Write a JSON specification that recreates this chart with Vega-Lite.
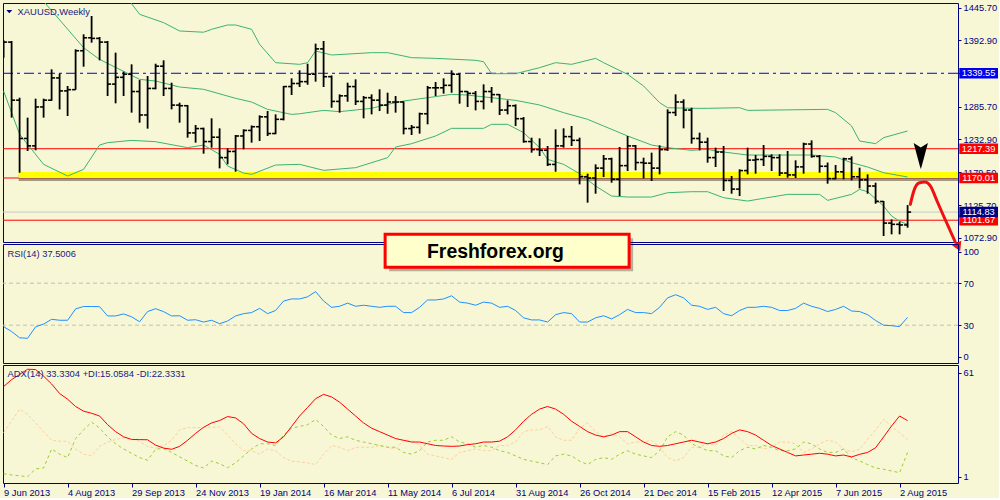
{
"$schema": "https://vega.github.io/schema/vega-lite/v6.json",
"background": "#F7F7D5",
"padding": {"left": 2, "top": 2, "right": 0, "bottom": 0},
"bounds": "flush",
"spacing": 2,
"config": {
  "font": "Liberation Sans",
  "view": {"stroke": "#000080", "strokeWidth": 1},
  "axis": {"labelFont": "Liberation Sans", "labelFontSize": 9.3, "labelColor": "#000080", "tickColor": "#000080", "domain": false, "grid": false, "labelOverlap": false, "labelBound": false, "labelFlush": false}
},
"datasets": {
"bars": [
{"d":"2013-06-09","o":1383,"h":1392.9,"l":1364.8,"c":1390,"r":28.6,"a":53,"p":2.7,"m":26.4},
{"d":"2013-06-16","o":1390,"h":1391.8,"l":1267.7,"c":1296,"r":24,"a":57,"p":2,"m":33},
{"d":"2013-06-23","o":1296,"h":1300,"l":1178.6,"c":1234,"r":18,"a":60,"p":1.5,"m":40},
{"d":"2013-06-30","o":1234,"h":1267.7,"l":1213.7,"c":1222,"r":17.5,"a":63,"p":1,"m":37},
{"d":"2013-07-07","o":1222,"h":1298.4,"l":1214.8,"c":1285,"r":28.5,"a":62.8,"p":5.5,"m":32},
{"d":"2013-07-14","o":1285,"h":1298.4,"l":1267.7,"c":1296,"r":31,"a":59,"p":6,"m":27},
{"d":"2013-07-21","o":1296,"h":1345.9,"l":1295,"c":1332,"r":35.6,"a":54.5,"p":17,"m":22},
{"d":"2013-07-28","o":1332,"h":1339,"l":1281,"c":1311,"r":34.7,"a":49,"p":14,"m":21.5},
{"d":"2013-08-04","o":1311,"h":1319,"l":1270.4,"c":1313,"r":34.7,"a":45.7,"p":12,"m":21.4},
{"d":"2013-08-11","o":1313,"h":1378.3,"l":1313,"c":1376,"r":45.5,"a":41.5,"p":23,"m":17},
{"d":"2013-08-18","o":1376,"h":1402.6,"l":1350.2,"c":1397,"r":47.8,"a":38.8,"p":28,"m":14},
{"d":"2013-08-25","o":1397,"h":1432.3,"l":1389.1,"c":1396,"r":47.8,"a":37.6,"p":32.5,"m":13},
{"d":"2013-09-01","o":1396,"h":1398.3,"l":1360.5,"c":1390,"r":47.6,"a":36,"p":29,"m":18.5},
{"d":"2013-09-08","o":1390,"h":1391.8,"l":1302.7,"c":1322,"r":38.8,"a":31,"p":24,"m":21},
{"d":"2013-09-15","o":1322,"h":1372.9,"l":1290.9,"c":1333,"r":38.8,"a":27,"p":20,"m":22.5},
{"d":"2013-09-22","o":1333,"h":1342.1,"l":1302.7,"c":1338,"r":40.7,"a":24,"p":17,"m":23.5},
{"d":"2013-09-29","o":1338,"h":1354,"l":1275.8,"c":1310,"r":38,"a":22.5,"p":14.5,"m":22.5},
{"d":"2013-10-06","o":1310,"h":1328.6,"l":1259.6,"c":1272,"r":33.3,"a":22.4,"p":12,"m":21.5},
{"d":"2013-10-13","o":1272,"h":1335.1,"l":1249.9,"c":1315,"r":43,"a":22.3,"p":10.5,"m":18.5},
{"d":"2013-10-20","o":1315,"h":1355,"l":1313.6,"c":1351,"r":45.7,"a":19.2,"p":16.8,"m":17.4},
{"d":"2013-10-27","o":1351,"h":1360.5,"l":1302.7,"c":1315,"r":42.9,"a":17.5,"p":17.4,"m":18.7},
{"d":"2013-11-03","o":1315,"h":1324.3,"l":1281.1,"c":1288,"r":38.8,"a":16.8,"p":15,"m":22},
{"d":"2013-11-10","o":1288,"h":1291.9,"l":1259.6,"c":1287,"r":39,"a":18.5,"p":12.5,"m":28},
{"d":"2013-11-17","o":1287,"h":1288.2,"l":1235.3,"c":1243,"r":34.7,"a":22,"p":10,"m":29.3},
{"d":"2013-11-24","o":1243,"h":1255.8,"l":1227.2,"c":1250,"r":35.2,"a":26,"p":7.5,"m":29.3},
{"d":"2013-12-01","o":1250,"h":1251.5,"l":1209.4,"c":1229,"r":33,"a":29.5,"p":6,"m":29.3},
{"d":"2013-12-08","o":1229,"h":1266.6,"l":1219.1,"c":1236,"r":34.7,"a":32,"p":10,"m":29.5},
{"d":"2013-12-15","o":1236,"h":1250.4,"l":1185.6,"c":1203,"r":31.4,"a":33.4,"p":8.5,"m":29.7},
{"d":"2013-12-22","o":1203,"h":1218,"l":1192.1,"c":1213,"r":34,"a":35.7,"p":6.2,"m":25},
{"d":"2013-12-29","o":1213,"h":1239.6,"l":1180.2,"c":1238,"r":38.8,"a":34.9,"p":9,"m":20},
{"d":"2014-01-05","o":1238,"h":1248.8,"l":1216.4,"c":1247,"r":41,"a":31.5,"p":13,"m":16},
{"d":"2014-01-12","o":1247,"h":1255,"l":1227.2,"c":1253,"r":42,"a":26,"p":17,"m":16},
{"d":"2014-01-19","o":1253,"h":1271.4,"l":1229.9,"c":1269,"r":46,"a":23,"p":20,"m":14},
{"d":"2014-01-26","o":1269,"h":1278.4,"l":1238,"c":1242,"r":41,"a":21,"p":20,"m":17},
{"d":"2014-02-02","o":1242,"h":1273,"l":1241,"c":1265,"r":44,"a":20.5,"p":19,"m":16},
{"d":"2014-02-09","o":1265,"h":1319,"l":1263.3,"c":1318,"r":53,"a":24,"p":25,"m":12},
{"d":"2014-02-16","o":1318,"h":1331.3,"l":1304.4,"c":1323,"r":55,"a":30,"p":29,"m":10},
{"d":"2014-02-23","o":1323,"h":1344.3,"l":1317.3,"c":1326,"r":55,"a":36,"p":30,"m":9.5},
{"d":"2014-03-02","o":1326,"h":1355,"l":1321,"c":1338,"r":57,"a":41,"p":31,"m":9},
{"d":"2014-03-09","o":1338,"h":1387.5,"l":1326,"c":1379,"r":62,"a":46,"p":34,"m":8},
{"d":"2014-03-16","o":1379,"h":1391.8,"l":1317.3,"c":1334,"r":53,"a":48.5,"p":30,"m":14},
{"d":"2014-03-23","o":1334,"h":1336,"l":1283.8,"c":1294,"r":47,"a":47,"p":25,"m":19},
{"d":"2014-03-30","o":1294,"h":1305.4,"l":1275.8,"c":1303,"r":48,"a":44,"p":23,"m":18},
{"d":"2014-04-06","o":1303,"h":1324.3,"l":1293.5,"c":1318,"r":51,"a":40,"p":24,"m":16},
{"d":"2014-04-13","o":1318,"h":1329.7,"l":1288.2,"c":1294,"r":48,"a":36,"p":22,"m":18},
{"d":"2014-04-20","o":1294,"h":1302.7,"l":1266.6,"c":1300,"r":49,"a":32,"p":21,"m":18},
{"d":"2014-04-27","o":1300,"h":1305.4,"l":1273,"c":1296,"r":48,"a":29,"p":20,"m":18},
{"d":"2014-05-04","o":1296,"h":1313.6,"l":1278.4,"c":1288,"r":47,"a":27,"p":19,"m":19},
{"d":"2014-05-11","o":1288,"h":1308.1,"l":1274,"c":1293,"r":48,"a":25,"p":18,"m":18},
{"d":"2014-05-18","o":1293,"h":1302.7,"l":1275.8,"c":1293,"r":48,"a":23,"p":18,"m":17},
{"d":"2014-05-25","o":1293,"h":1294,"l":1240.7,"c":1250,"r":42,"a":22,"p":15,"m":22},
{"d":"2014-06-01","o":1250,"h":1255.8,"l":1239.6,"c":1252,"r":42,"a":21,"p":14,"m":22},
{"d":"2014-06-08","o":1252,"h":1275.8,"l":1241.8,"c":1274,"r":47,"a":21,"p":16,"m":19},
{"d":"2014-06-15","o":1274,"h":1319,"l":1256.9,"c":1316,"r":54,"a":20,"p":21,"m":14},
{"d":"2014-06-22","o":1316,"h":1325.4,"l":1302.7,"c":1316,"r":54,"a":19,"p":22,"m":13},
{"d":"2014-06-29","o":1316,"h":1331.3,"l":1306.5,"c":1320,"r":55,"a":18.7,"p":22,"m":12},
{"d":"2014-07-06","o":1320,"h":1344.3,"l":1308.1,"c":1338,"r":58,"a":18.5,"p":24,"m":11},
{"d":"2014-07-13","o":1338,"h":1339,"l":1290.3,"c":1310,"r":52,"a":18.7,"p":21,"m":15},
{"d":"2014-07-20","o":1310,"h":1310.8,"l":1284.9,"c":1307,"r":51,"a":19.5,"p":20,"m":16},
{"d":"2014-07-27","o":1307,"h":1310.8,"l":1279.5,"c":1294,"r":49,"a":20,"p":18,"m":17},
{"d":"2014-08-03","o":1294,"h":1321.6,"l":1281.1,"c":1310,"r":52,"a":21,"p":19,"m":16},
{"d":"2014-08-10","o":1310,"h":1317.3,"l":1292,"c":1305,"r":51,"a":21,"p":18,"m":16},
{"d":"2014-08-17","o":1305,"h":1306,"l":1272,"c":1280,"r":47,"a":21.5,"p":16,"m":19},
{"d":"2014-08-24","o":1280,"h":1295.7,"l":1273,"c":1287,"r":48,"a":24,"p":15,"m":19},
{"d":"2014-08-31","o":1287,"h":1289.2,"l":1254.2,"c":1266,"r":44,"a":28,"p":13,"m":21},
{"d":"2014-09-07","o":1266,"h":1268.7,"l":1227.2,"c":1229,"r":37,"a":33,"p":11,"m":27},
{"d":"2014-09-14","o":1229,"h":1235.3,"l":1211,"c":1216,"r":35,"a":37,"p":10,"m":28},
{"d":"2014-09-21","o":1216,"h":1234.2,"l":1205.6,"c":1215,"r":35,"a":40,"p":9,"m":28},
{"d":"2014-09-28","o":1215,"h":1221.8,"l":1189.4,"c":1192,"r":33,"a":41.5,"p":8,"m":30},
{"d":"2014-10-05","o":1192,"h":1248.8,"l":1180.2,"c":1222,"r":40,"a":40,"p":13,"m":24},
{"d":"2014-10-12","o":1222,"h":1250.4,"l":1219.1,"c":1237,"r":42,"a":37,"p":14,"m":22},
{"d":"2014-10-19","o":1237,"h":1254.2,"l":1221.8,"c":1231,"r":41,"a":33,"p":13,"m":22},
{"d":"2014-10-26","o":1231,"h":1235.3,"l":1159.7,"c":1172,"r":33,"a":30,"p":10,"m":29},
{"d":"2014-11-02","o":1172,"h":1177,"l":1130.1,"c":1170,"r":33,"a":27,"p":8,"m":32},
{"d":"2014-11-09","o":1170,"h":1192.1,"l":1144.6,"c":1186,"r":37,"a":25,"p":11,"m":27},
{"d":"2014-11-16","o":1186,"h":1207.2,"l":1171.6,"c":1201,"r":39,"a":24,"p":12,"m":24},
{"d":"2014-11-23","o":1201,"h":1202.9,"l":1162.4,"c":1168,"r":36,"a":25,"p":11,"m":26},
{"d":"2014-11-30","o":1168,"h":1220.2,"l":1140.8,"c":1190,"r":40,"a":27,"p":14,"m":24},
{"d":"2014-12-07","o":1190,"h":1238,"l":1181.3,"c":1222,"r":45,"a":27,"p":16,"m":20},
{"d":"2014-12-14","o":1222,"h":1223.4,"l":1182.4,"c":1195,"r":42,"a":24,"p":14,"m":21},
{"d":"2014-12-21","o":1195,"h":1202.9,"l":1169.4,"c":1194,"r":42,"a":21,"p":13,"m":21},
{"d":"2014-12-28","o":1194,"h":1211,"l":1165.1,"c":1186,"r":41,"a":19,"p":12,"m":22},
{"d":"2015-01-04","o":1186,"h":1222.9,"l":1175.9,"c":1216,"r":47,"a":18.5,"p":16,"m":18},
{"d":"2015-01-11","o":1216,"h":1281.1,"l":1214,"c":1276,"r":56,"a":19,"p":24,"m":12},
{"d":"2015-01-18","o":1276,"h":1305.4,"l":1270.4,"c":1293,"r":59,"a":20,"p":27,"m":10},
{"d":"2015-01-25","o":1293,"h":1297.4,"l":1250.4,"c":1280,"r":56,"a":21,"p":25,"m":12},
{"d":"2015-02-01","o":1280,"h":1283.8,"l":1225.6,"c":1234,"r":49,"a":22,"p":20,"m":18},
{"d":"2015-02-08","o":1234,"h":1243.4,"l":1214.8,"c":1228,"r":48,"a":21,"p":18,"m":18},
{"d":"2015-02-15","o":1228,"h":1235.3,"l":1194.8,"c":1203,"r":45,"a":20,"p":16,"m":20},
{"d":"2015-02-22","o":1203,"h":1219.1,"l":1187.8,"c":1212,"r":47,"a":21,"p":16,"m":19},
{"d":"2015-03-01","o":1212,"h":1221.8,"l":1149,"c":1166,"r":41,"a":23,"p":13,"m":25},
{"d":"2015-03-08","o":1166,"h":1173.2,"l":1144.6,"c":1152,"r":39,"a":26,"p":12,"m":27},
{"d":"2015-03-15","o":1152,"h":1184,"l":1140.8,"c":1182,"r":44,"a":28,"p":16,"m":23},
{"d":"2015-03-22","o":1182,"h":1219.1,"l":1175.9,"c":1199,"r":47,"a":27,"p":18,"m":19},
{"d":"2015-03-29","o":1199,"h":1207.2,"l":1177,"c":1200,"r":47,"a":25,"p":17,"m":19},
{"d":"2015-04-05","o":1200,"h":1223.4,"l":1189.4,"c":1205,"r":48,"a":22,"p":19,"m":17},
{"d":"2015-04-12","o":1205,"h":1208.3,"l":1181.3,"c":1203,"r":47,"a":19,"p":18,"m":18},
{"d":"2015-04-19","o":1203,"h":1208.3,"l":1173.2,"c":1178,"r":44,"a":17,"p":16,"m":21},
{"d":"2015-04-26","o":1178,"h":1213.7,"l":1170.5,"c":1175,"r":44,"a":15,"p":16,"m":21},
{"d":"2015-05-03","o":1175,"h":1198.6,"l":1170,"c":1188,"r":46,"a":13,"p":17,"m":20},
{"d":"2015-05-10","o":1188,"h":1227.2,"l":1177,"c":1225,"r":51,"a":13.5,"p":21,"m":15},
{"d":"2015-05-17","o":1225,"h":1230.9,"l":1202.9,"c":1205,"r":48,"a":14,"p":20,"m":17},
{"d":"2015-05-24","o":1205,"h":1207.2,"l":1178.6,"c":1189,"r":46,"a":14.5,"p":17,"m":20},
{"d":"2015-05-31","o":1189,"h":1195,"l":1160.8,"c":1169,"r":43,"a":14,"p":15,"m":22},
{"d":"2015-06-07","o":1169,"h":1191,"l":1167.8,"c":1180,"r":45,"a":13,"p":15,"m":21},
{"d":"2015-06-14","o":1180,"h":1202.9,"l":1167.8,"c":1201,"r":48,"a":13.5,"p":17,"m":17},
{"d":"2015-06-21","o":1201,"h":1205,"l":1166.2,"c":1172,"r":43.5,"a":12.4,"p":12,"m":15.4},
{"d":"2015-06-28","o":1172,"h":1186.7,"l":1153.2,"c":1167,"r":43,"a":13.9,"p":10.1,"m":16.8},
{"d":"2015-07-05","o":1167,"h":1175.9,"l":1144.6,"c":1157,"r":40,"a":15,"p":8,"m":22.6},
{"d":"2015-07-12","o":1157,"h":1162.4,"l":1128.4,"c":1132,"r":34.5,"a":17.7,"p":6,"m":28},
{"d":"2015-07-19","o":1132,"h":1132.7,"l":1076.1,"c":1097,"r":30,"a":23.9,"p":5.3,"m":34.1},
{"d":"2015-07-26","o":1097,"h":1103,"l":1078.8,"c":1095,"r":29.5,"a":30.3,"p":4.3,"m":30},
{"d":"2015-08-02","o":1095,"h":1099.3,"l":1078.8,"c":1094,"r":28.7,"a":36,"p":3.3,"m":26.4},
{"d":"2015-08-09","o":1094,"h":1126.2,"l":1089.6,"c":1114.83,"r":37.5006,"a":33.3304,"p":15.0584,"m":22.3331}
],
"bb": [
{"d":"2013-08-04","b":"u","v":1540},{"d":"2013-09-01","b":"u","v":1505},{"d":"2013-09-15","b":"u","v":1478},{"d":"2013-09-29","b":"u","v":1452},{"d":"2013-10-06","b":"u","v":1435},{"d":"2013-10-27","b":"u","v":1421.5},{"d":"2013-11-10","b":"u","v":1408},{"d":"2013-12-01","b":"u","v":1406},{"d":"2013-12-08","b":"u","v":1410.7},{"d":"2013-12-22","b":"u","v":1417.7},{"d":"2013-12-29","b":"u","v":1417.7},{"d":"2014-01-12","b":"u","v":1410.7},{"d":"2014-01-19","b":"u","v":1386.4},{"d":"2014-02-02","b":"u","v":1356.7},{"d":"2014-02-23","b":"u","v":1354},{"d":"2014-03-02","b":"u","v":1356.7},{"d":"2014-03-09","b":"u","v":1375.6},{"d":"2014-03-23","b":"u","v":1369.1},{"d":"2014-04-27","b":"u","v":1372.9},{"d":"2014-05-11","b":"u","v":1372.9},{"d":"2014-06-01","b":"u","v":1364.8},{"d":"2014-06-22","b":"u","v":1363.7},{"d":"2014-07-27","b":"u","v":1360.5},{"d":"2014-08-03","b":"u","v":1358.3},{"d":"2014-08-10","b":"u","v":1338.9},{"d":"2014-08-31","b":"u","v":1338.9},{"d":"2014-09-21","b":"u","v":1348.6},{"d":"2014-10-05","b":"u","v":1356.7},{"d":"2014-10-19","b":"u","v":1354},{"d":"2014-11-09","b":"u","v":1363.7},{"d":"2014-11-16","b":"u","v":1356.7},{"d":"2014-12-07","b":"u","v":1337.8},{"d":"2014-12-21","b":"u","v":1318.9},{"d":"2015-01-04","b":"u","v":1292},{"d":"2015-01-11","b":"u","v":1283.8},{"d":"2015-02-01","b":"u","v":1282.8},{"d":"2015-02-15","b":"u","v":1282.8},{"d":"2015-03-15","b":"u","v":1283.8},{"d":"2015-03-22","b":"u","v":1279.5},{"d":"2015-05-31","b":"u","v":1281.1},{"d":"2015-06-07","b":"u","v":1275.8},{"d":"2015-06-21","b":"u","v":1254.2},{"d":"2015-06-28","b":"u","v":1229.9},{"d":"2015-07-12","b":"u","v":1225.6},{"d":"2015-07-19","b":"u","v":1235.3},{"d":"2015-08-09","b":"u","v":1246.1},
{"d":"2013-06-09","b":"m","v":1480},{"d":"2013-06-30","b":"m","v":1468},{"d":"2013-07-14","b":"m","v":1456},{"d":"2013-08-18","b":"m","v":1381},{"d":"2013-09-01","b":"m","v":1362},{"d":"2013-10-06","b":"m","v":1329.7},{"d":"2013-10-20","b":"m","v":1327},{"d":"2013-11-10","b":"m","v":1317.3},{"d":"2013-12-01","b":"m","v":1313.6},{"d":"2013-12-29","b":"m","v":1299},{"d":"2014-01-12","b":"m","v":1293},{"d":"2014-01-26","b":"m","v":1281.1},{"d":"2014-02-16","b":"m","v":1273},{"d":"2014-02-23","b":"m","v":1274},{"d":"2014-03-16","b":"m","v":1279.5},{"d":"2014-03-30","b":"m","v":1277.4},{"d":"2014-04-27","b":"m","v":1282.8},{"d":"2014-05-11","b":"m","v":1289.2},{"d":"2014-05-25","b":"m","v":1294.6},{"d":"2014-06-15","b":"m","v":1300},{"d":"2014-07-06","b":"m","v":1305.4},{"d":"2014-07-20","b":"m","v":1304.3},{"d":"2014-07-27","b":"m","v":1302.7},{"d":"2014-08-10","b":"m","v":1300},{"d":"2014-08-31","b":"m","v":1295.7},{"d":"2014-09-21","b":"m","v":1288.2},{"d":"2014-10-12","b":"m","v":1275.8},{"d":"2014-11-02","b":"m","v":1265},{"d":"2014-11-16","b":"m","v":1254.2},{"d":"2014-12-07","b":"m","v":1238},{"d":"2014-12-28","b":"m","v":1223.4},{"d":"2015-01-11","b":"m","v":1219.1},{"d":"2015-02-01","b":"m","v":1214.8},{"d":"2015-02-15","b":"m","v":1216.4},{"d":"2015-02-22","b":"m","v":1213.7},{"d":"2015-03-22","b":"m","v":1207.2},{"d":"2015-04-26","b":"m","v":1207.2},{"d":"2015-05-17","b":"m","v":1207.2},{"d":"2015-06-07","b":"m","v":1204},{"d":"2015-06-21","b":"m","v":1194.8},{"d":"2015-07-05","b":"m","v":1187.8},{"d":"2015-07-19","b":"m","v":1178.6},{"d":"2015-08-09","b":"m","v":1171.6},
{"d":"2013-06-09","b":"l","v":1310.8},{"d":"2013-06-23","b":"l","v":1240.7},{"d":"2013-07-14","b":"l","v":1192.1},{"d":"2013-08-04","b":"l","v":1173.2},{"d":"2013-08-18","b":"l","v":1184},{"d":"2013-09-01","b":"l","v":1223.4},{"d":"2013-09-08","b":"l","v":1227.2},{"d":"2013-09-29","b":"l","v":1230.9},{"d":"2013-10-20","b":"l","v":1228.8},{"d":"2013-11-17","b":"l","v":1219.1},{"d":"2013-12-01","b":"l","v":1223.4},{"d":"2013-12-15","b":"l","v":1208.3},{"d":"2013-12-22","b":"l","v":1189.4},{"d":"2014-01-05","b":"l","v":1178},{"d":"2014-01-12","b":"l","v":1175.9},{"d":"2014-02-02","b":"l","v":1191},{"d":"2014-02-23","b":"l","v":1192.1},{"d":"2014-03-16","b":"l","v":1182.4},{"d":"2014-04-13","b":"l","v":1186.7},{"d":"2014-05-11","b":"l","v":1202.9},{"d":"2014-05-18","b":"l","v":1220.2},{"d":"2014-06-01","b":"l","v":1225.6},{"d":"2014-06-22","b":"l","v":1238},{"d":"2014-07-06","b":"l","v":1250.4},{"d":"2014-08-03","b":"l","v":1250.4},{"d":"2014-08-10","b":"l","v":1256.9},{"d":"2014-08-24","b":"l","v":1256.9},{"d":"2014-09-07","b":"l","v":1243.4},{"d":"2014-09-21","b":"l","v":1219.1},{"d":"2014-09-28","b":"l","v":1200.2},{"d":"2014-10-12","b":"l","v":1192.1},{"d":"2014-10-26","b":"l","v":1177},{"d":"2014-11-09","b":"l","v":1157},{"d":"2014-11-23","b":"l","v":1140.8},{"d":"2014-12-07","b":"l","v":1139.2},{"d":"2014-12-28","b":"l","v":1139.2},{"d":"2015-01-11","b":"l","v":1146.2},{"d":"2015-02-01","b":"l","v":1147.8},{"d":"2015-02-15","b":"l","v":1147.8},{"d":"2015-03-01","b":"l","v":1138.1},{"d":"2015-03-22","b":"l","v":1132.7},{"d":"2015-04-05","b":"l","v":1137.1},{"d":"2015-04-26","b":"l","v":1143.5},{"d":"2015-05-24","b":"l","v":1143.5},{"d":"2015-05-31","b":"l","v":1133.8},{"d":"2015-06-21","b":"l","v":1143.5},{"d":"2015-06-28","b":"l","v":1151.6},{"d":"2015-07-05","b":"l","v":1147.8},{"d":"2015-07-19","b":"l","v":1124.6},{"d":"2015-07-26","b":"l","v":1108.4},{"d":"2015-08-02","b":"l","v":1100},{"d":"2015-08-09","b":"l","v":1094.9}
],
"lv": [
{"v":1339.55,"k":"pivot"},{"v":1217.39,"k":"res"},{"v":1170.01,"k":"sup"},{"v":1101.67,"k":"sup2"},{"v":1114.83,"k":"bid"}
],
"curve": [
{"d":"2015-08-11T09:00:00Z","p":1127.4},{"d":"2015-08-14T10:30:00Z","p":1149},{"d":"2015-08-18T19:00:00Z","p":1161.9},{"d":"2015-08-24T11:00:00Z","p":1163.5},{"d":"2015-08-28T21:00:00Z","p":1157.2},{"d":"2015-09-03T18:00:00Z","p":1132.8},{"d":"2015-09-09T12:00:00Z","p":1108.5},{"d":"2015-09-15T09:00:00Z","p":1084.2},{"d":"2015-09-19T17:00:00Z","p":1066.4}
]
},
"vconcat": [
{
"width": 955, "height": 239,
"layer": [
{"data":{"name":"lv"},"transform":[{"filter":"datum.k=='res'||datum.k=='sup'||datum.k=='sup2'"}],
 "mark":{"type":"rule","stroke":"#FF0000","strokeWidth":1},
 "encoding":{"y":{"field":"v","type":"quantitative","title":null,"scale":{"domain":[1066.4,1453.3],"nice":false,"zero":false},"axis":{"orient":"right","values":[1072.9,1125.7,1179.5,1232.9,1285.7,1339.3,1392.9,1445.7],"tickCount":30,"format":".2f","tickSize":3,"labelPadding":2,"labelOverlap":false}}}},
{"data":{"name":"lv"},"transform":[{"filter":"datum.k=='pivot'"}],
 "mark":{"type":"rule","stroke":"#0000E0","strokeWidth":1,"strokeDash":[10,4,3,4]},
 "encoding":{"y":{"field":"v","type":"quantitative","title":null}}},
{"data":{"name":"lv"},"transform":[{"filter":"datum.k=='bid'"}],
 "mark":{"type":"rule","stroke":"#C8C8C8","strokeWidth":1},
 "encoding":{"y":{"field":"v","type":"quantitative","title":null}}},
{"data":{"values":[{"f":"2013-06-22T03:00:00Z","t":"2015-09-22T02:24:00Z","lo":1170.0,"hi":1179.7}]},
 "mark":{"type":"rect","fill":"#5a4e38","opacity":0.55,"yOffset":3,"y2Offset":3},
 "encoding":{"x":{"field":"f","type":"temporal","title":null},"x2":{"field":"t"},"y":{"field":"lo","type":"quantitative","title":null},"y2":{"field":"hi"}}},
{"data":{"values":[{"f":"2013-06-22T03:00:00Z","t":"2015-09-22T02:24:00Z","lo":1170.0,"hi":1179.7}]},
 "mark":{"type":"rect","fill":"#FFFF00"},
 "encoding":{"x":{"field":"f","type":"temporal","title":null},"x2":{"field":"t"},"y":{"field":"lo","type":"quantitative","title":null},"y2":{"field":"hi"}}},
{"data":{"name":"bb"},
 "mark":{"type":"line","stroke":"#3CB371","strokeWidth":1,"clip":true},
 "encoding":{"x":{"field":"d","type":"temporal","title":null},"y":{"field":"v","type":"quantitative","title":null},"detail":{"field":"b"}}},
{"data":{"name":"bars"},
 "mark":{"type":"rule","color":"#000000","strokeWidth":1.8,"clip":true},
 "encoding":{"x":{"field":"d","type":"temporal","title":null,"axis":null,"scale":{"type":"utc","domain":[{"year":2013,"month":6,"date":8,"hours":11,"minutes":24,"utc":true},{"year":2015,"month":9,"date":22,"hours":2,"minutes":24,"utc":true}]}},"y":{"field":"l","type":"quantitative","title":null},"y2":{"field":"h"}}},
{"data":{"name":"bars"},
 "mark":{"type":"rule","color":"#000000","strokeWidth":1.6,"x2Offset":-3.5,"clip":true},
 "encoding":{"x":{"field":"d","type":"temporal","title":null},"x2":{"field":"d"},"y":{"field":"o","type":"quantitative","title":null}}},
{"data":{"name":"bars"},
 "mark":{"type":"rule","color":"#000000","strokeWidth":1.6,"x2Offset":3.5,"clip":true},
 "encoding":{"x":{"field":"d","type":"temporal","title":null},"x2":{"field":"d"},"y":{"field":"c","type":"quantitative","title":null}}},
{"data":{"name":"lv"},
 "mark":{"type":"point","shape":"M-1,-0.27H1V0.27H-1Z","size":1498,"filled":true,"opacity":1,"strokeWidth":0},
 "encoding":{"x":{"datum":{"year":2015,"month":10,"date":10,"hours":4,"utc":true},"type":"temporal"},"y":{"field":"v","type":"quantitative","title":null},
  "color":{"field":"k","type":"nominal","legend":null,"scale":{"domain":["pivot","res","sup","bid","sup2"],"range":["#0000F0","#FF0000","#FF0000","#000080","#FF0000"]}}}},
{"data":{"name":"lv"},
 "mark":{"type":"text","color":"#FFFFFF","font":"Liberation Sans","fontSize":9.3,"align":"center","baseline":"middle"},
 "encoding":{"x":{"datum":{"year":2015,"month":10,"date":10,"hours":4,"utc":true},"type":"temporal"},"y":{"field":"v","type":"quantitative","title":null},"text":{"field":"v","type":"quantitative","format":".2f"}}},
{"data":{"values":[{"t":"XAUUSD,Weekly"}]},
 "mark":{"type":"point","shape":"M-1,-0.55L1,-0.55L0,0.55Z","size":36,"filled":true,"color":"#000080","opacity":1,"xOffset":5.7},
 "encoding":{"x":{"datum":{"year":2013,"month":6,"date":9,"utc":true},"type":"temporal"},"y":{"datum":1439.2,"type":"quantitative"}}},
{"data":{"values":[{"t":"XAUUSD,Weekly"}]},
 "mark":{"type":"text","align":"left","baseline":"middle","dx":14,"font":"Liberation Sans","fontSize":9.4,"color":"#202080"},
 "encoding":{"x":{"datum":{"year":2013,"month":6,"date":9,"utc":true},"type":"temporal"},"y":{"datum":1439.2,"type":"quantitative"},"text":{"field":"t"}}},
{"data":{"values":[{"t":"down"}]},
 "mark":{"type":"point","shape":"M-0.55,-1L0,-0.65L0.55,-1L0.08,0.75L0,1L-0.08,0.75Z","size":676,"filled":true,"color":"#000000","opacity":1},
 "encoding":{"x":{"datum":{"year":2015,"month":8,"date":20,"hours":13,"utc":true},"type":"temporal"},"y":{"datum":1205.6,"type":"quantitative"}}},
{"data":{"name":"curve"},
 "mark":{"type":"line","stroke":"#F01010","strokeWidth":3,"interpolate":"monotone","strokeCap":"round"},
 "encoding":{"x":{"field":"d","type":"temporal","title":null},"y":{"field":"p","type":"quantitative","title":null}}},
{"data":{"values":[{"t":"head"}]},
 "mark":{"type":"point","shape":"triangle-down","size":110,"angle":-24,"filled":true,"color":"#F01010","opacity":1},
 "encoding":{"x":{"datum":{"year":2015,"month":9,"date":22,"hours":9,"utc":true},"type":"temporal"},"y":{"datum":1058.3,"type":"quantitative"}}}
]
},
{
"width": 955, "height": 119,
"layer": [
{"data":{"values":[{"lv":30},{"lv":70}]},
 "mark":{"type":"rule","stroke":"#BEBEBE","strokeWidth":1,"strokeDash":[4,3]},
 "encoding":{"y":{"field":"lv","type":"quantitative","title":null,"scale":{"domain":[-6,107.3],"nice":false,"zero":false},"axis":{"orient":"right","values":[0,30,70,100],"tickCount":30,"format":"d","tickSize":3,"labelPadding":2,"labelOverlap":false}}}},
{"data":{"name":"bars"},
 "mark":{"type":"line","stroke":"#1E90FF","strokeWidth":1,"clip":true},
 "encoding":{"x":{"field":"d","type":"temporal","title":null,"axis":null,"scale":{"type":"utc","domain":[{"year":2013,"month":6,"date":8,"hours":11,"minutes":24,"utc":true},{"year":2015,"month":9,"date":22,"hours":2,"minutes":24,"utc":true}]}},"y":{"field":"r","type":"quantitative","title":null}}},
{"data":{"values":[{"t":"RSI(14) 37.5006"}]},
 "mark":{"type":"text","align":"left","baseline":"middle","dx":4,"font":"Liberation Sans","fontSize":9.3,"color":"#202080"},
 "encoding":{"x":{"datum":{"year":2013,"month":6,"date":9,"utc":true},"type":"temporal"},"y":{"datum":98.1,"type":"quantitative"},"text":{"field":"t"}}}
]
},
{
"width": 955, "height": 118,
"layer": [
{"data":{"name":"bars"},
 "mark":{"type":"line","stroke":"#FFCFA0","strokeWidth":1,"strokeDash":[3,2],"clip":true},
 "encoding":{"x":{"field":"d","type":"temporal","title":null,"scale":{"type":"utc","domain":[{"year":2013,"month":6,"date":8,"hours":11,"minutes":24,"utc":true},{"year":2015,"month":9,"date":22,"hours":2,"minutes":24,"utc":true}]},
   "axis":{"orient":"bottom","values":[1370736000000,1375574400000,1380412800000,1385251200000,1390089600000,1394928000000,1399766400000,1404604800000,1409443200000,1414281600000,1419120000000,1423958400000,1428796800000,1433635200000,1438473600000],"tickCount":40,"format":"%-d %b %Y","labelAlign":"left","labelBaseline":"top","labelFlush":false,"labelOverlap":false,"labelBound":false,"tickSize":4,"labelPadding":1}},
  "y":{"field":"m","type":"quantitative","title":null,"scale":{"domain":[-2.64,65.44],"nice":false,"zero":false},"axis":{"orient":"right","values":[1,61],"tickCount":30,"format":"d","tickSize":3,"labelPadding":2,"labelOverlap":false}}}},
{"data":{"name":"bars"},
 "mark":{"type":"line","stroke":"#9ACD32","strokeWidth":1,"strokeDash":[3,3],"clip":true},
 "encoding":{"x":{"field":"d","type":"temporal","title":null},"y":{"field":"p","type":"quantitative","title":null}}},
{"data":{"name":"bars"},
 "mark":{"type":"line","stroke":"#FF0000","strokeWidth":1,"clip":true},
 "encoding":{"x":{"field":"d","type":"temporal","title":null},"y":{"field":"a","type":"quantitative","title":null}}},
{"data":{"values":[{"t":"ADX(14) 33.3304 +DI:15.0584 -DI:22.3331"}]},
 "mark":{"type":"text","align":"left","baseline":"middle","dx":4,"font":"Liberation Sans","fontSize":9.4,"color":"#202080"},
 "encoding":{"x":{"datum":{"year":2013,"month":6,"date":9,"utc":true},"type":"temporal"},"y":{"datum":60.1,"type":"quantitative"},"text":{"field":"t"}}},
{"data":{"values":[{"t":"box"}]},
 "mark":{"type":"rect","fill":"#000000","opacity":0.28,"xOffset":4,"x2Offset":4,"yOffset":4,"y2Offset":4},
 "encoding":{"x":{"datum":{"year":2014,"month":5,"date":8,"hours":20,"utc":true},"type":"temporal"},"x2":{"datum":{"year":2014,"month":12,"date":8,"hours":8,"utc":true}},"y":{"datum":140.9,"type":"quantitative"},"y2":{"datum":121.8}}},
{"data":{"values":[{"t":"box"}]},
 "mark":{"type":"rect","fill":"#FFFFCC","stroke":"#FF0000","strokeWidth":3},
 "encoding":{"x":{"datum":{"year":2014,"month":5,"date":8,"hours":20,"utc":true},"type":"temporal"},"x2":{"datum":{"year":2014,"month":12,"date":8,"hours":8,"utc":true}},"y":{"datum":140.9,"type":"quantitative"},"y2":{"datum":121.8}}},
{"data":{"values":[{"t":"Freshforex.org"}]},
 "mark":{"type":"text","align":"left","baseline":"middle","font":"Liberation Sans","fontWeight":"bold","fontSize":19.4,"color":"#000000"},
 "encoding":{"x":{"datum":{"year":2014,"month":6,"date":14,"hours":12,"utc":true},"type":"temporal"},"y":{"datum":130.6,"type":"quantitative"},"text":{"field":"t"}}}
]
}
]
}
